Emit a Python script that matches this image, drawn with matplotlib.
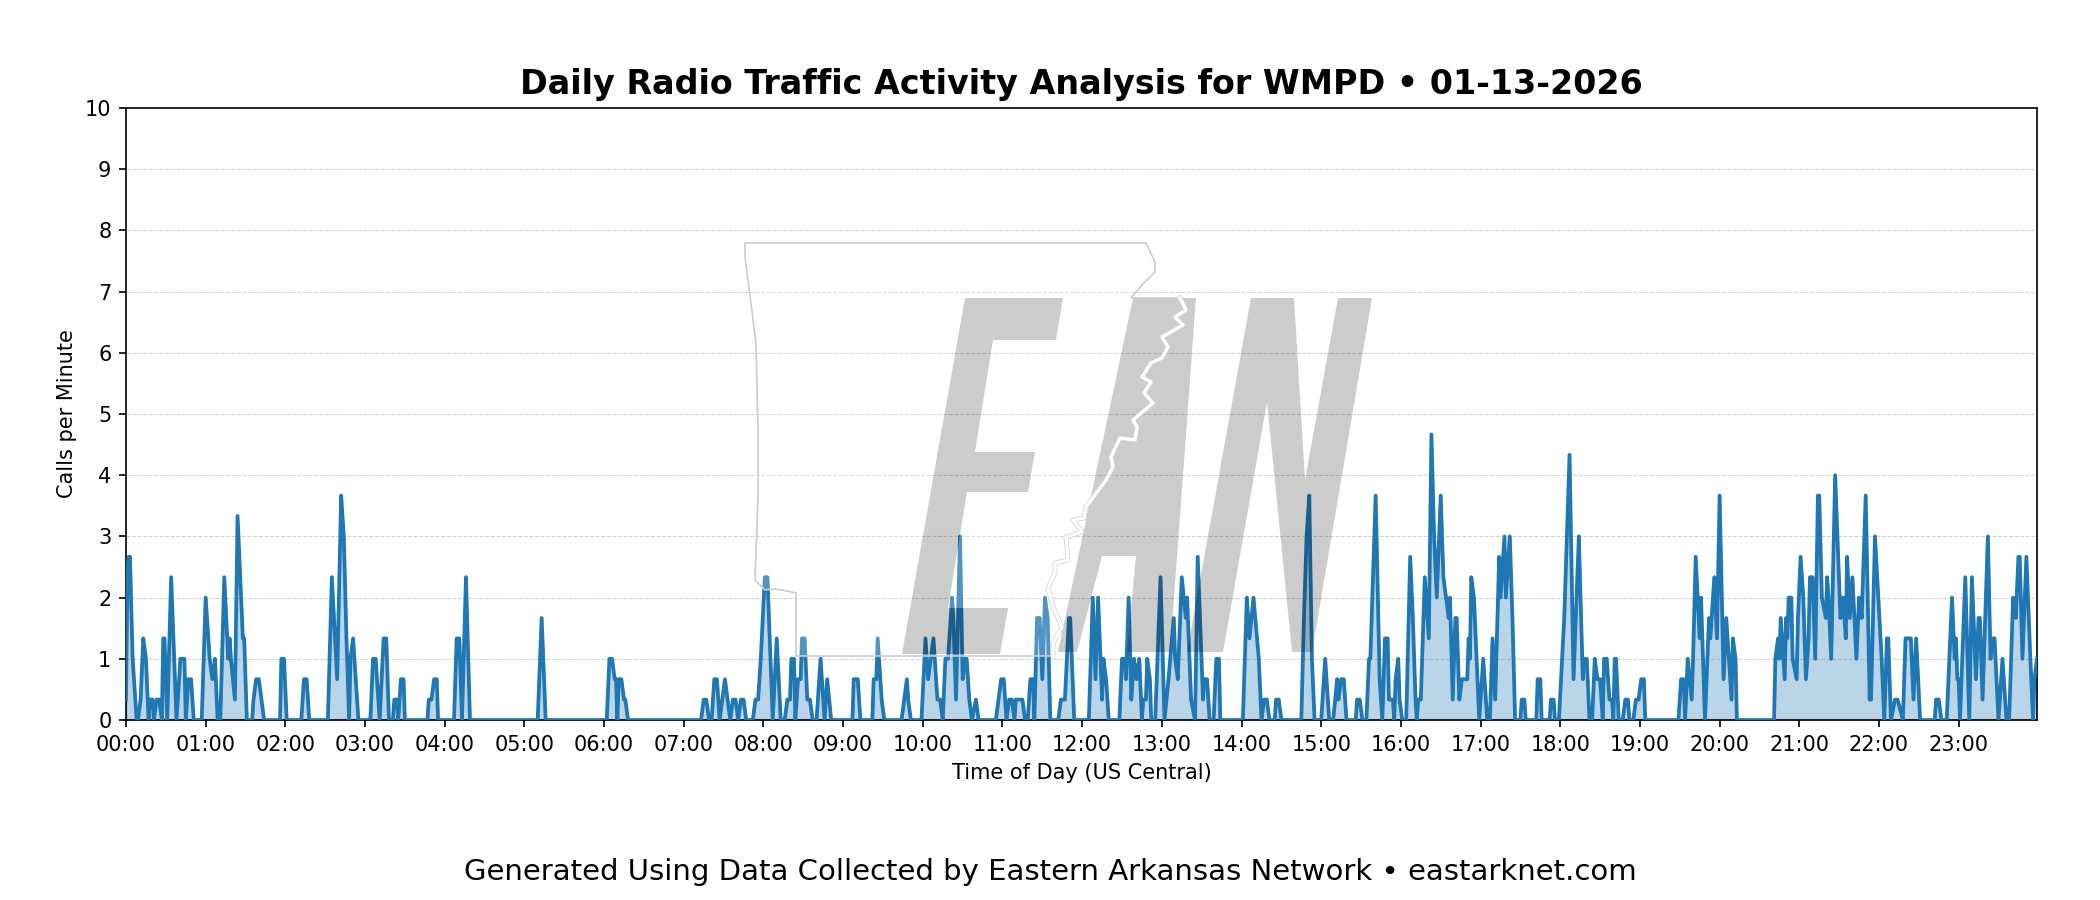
import matplotlib
matplotlib.use("Agg")
import numpy as np
import matplotlib.pyplot as plt
from matplotlib.patches import Polygon, PathPatch
from matplotlib.path import Path
from matplotlib.transforms import Affine2D

# (minute of day, calls per minute in thirds), zero runs only keep their ends
overnight = [(0,1),(1,7),(2,8),(3,8),(5,3),(8,0),(9,0),(11,1),(13,4),(15,3),(17,0),(18,1),(20,1),(21,0),
    (23,1),(25,1),(27,0),(28,4),(29,4),(31,0),(34,7),(38,0),(41,3),(44,3),(45,0),(47,2),(49,2),(51,0),
    (57,0),(60,6),(63,3),(65,2),(67,3),(69,0),(71,0),(74,7),(77,3),(78,4),(79,3),(82,1),(84,10),(88,4),(89,4),(91,0),
    (95,0),(96,1),(98,2),(100,2),(102,1),(104,0),(116,0),(117,3),(119,3),(121,0),(132,0),(134,2),(136,2),(138,0),
    (152,0),(155,7),(159,2),(162,11),(164,9),(166,4),(168,0),(169,3),(171,4),(173,2),(175,0),(184,0),
    (186,3),(188,3),(191,0),(194,4),(196,4),(198,0),(201,0),(202,1),(204,1),(205,0),(207,2),(209,2),(210,0),
    (227,0),(228,1),(230,1),(232,2),(234,2),(235,0),(247,0),(249,4),(251,4),(253,0),(256,7),(259,0),
    (310,0),(313,5),(316,0),(362,0),(364,3),(366,3),(368,2),(369,2),(370,0),(371,2),(373,2),(375,1),(376,1),(378,0)]
morning = [(433,0),(435,1),(437,1),(439,0),(441,0),(443,2),(445,2),(447,0),(449,1),(451,2),(453,1),(455,0),
    (457,1),(459,1),(461,0),(463,1),(465,1),(467,0),(472,0),(474,1),(476,1),(478,3),(481,7),(483,7),(487,0),
    (490,4),(493,0),(496,0),(498,1),(500,1),(501,3),(503,3),(504,0),(506,2),(508,2),(509,4),(511,4),(513,1),(515,1),(517,0),
    (520,0),(523,3),(526,0),(528,2),(531,0),(547,0),(548,2),(551,2),(553,0),(562,0),(563,2),(565,2),(566,4),(567,3),(569,1),(571,0),
    (584,0),(586,1),(588,2),(589,1),(591,0),(599,0),(602,4),(604,2),(606,3),(608,4),(611,1),(613,1),(615,0),
    (617,3),(619,3),(622,6),(623,5),(625,1),(628,9),(630,2),(632,3),(633,3),(635,1),(637,0),(640,1),(642,0),
    (655,0),(657,1),(659,2),(661,2),(663,0),(665,1),(667,1),(669,0),(670,1),(675,1),(677,0),(679,0),(681,2),(683,2),(684,0),
    (686,5),(688,5),(690,2),(692,6),(694,5),(696,0),(702,0),(704,1),(707,1),(710,5),(711,5),(714,0)]
midday = [(725,0),(728,6),(730,2),(732,6),(735,1),(736,3),(738,2),(740,0),(748,0),(750,3),(752,3),(753,2),(755,6),
    (757,1),(759,3),(761,2),(763,3),(765,0),(766,1),(768,1),(769,3),(771,2),(772,0),(775,0),(779,7),(782,0),(785,2),
    (789,5),(790,3),(792,2),(795,7),(798,5),(799,6),(802,1),(805,0),(807,8),(811,1),(812,2),(814,2),(816,0),(819,0),
    (821,3),(823,3),(824,0),(841,0),(844,6),(846,4),(849,6),(853,3),(855,0),(857,1),(859,1),(861,0),(865,0),(866,1),(868,1),(870,0),
    (885,0),(887,5),(889,9),(891,11),(893,3),(895,0),(900,0),(903,3),(906,0),(909,0),(912,2),(913,1),(915,2),(917,2),(919,0),
    (926,0),(927,1),(929,1),(931,0),(934,0),(936,3),(937,3),(941,11),(944,2),(946,0),(948,4),(950,4),(951,1),(954,1),(955,0),
    (956,2),(958,3),(959,1),(961,0)]
afternoon = [(964,0),(967,8),(969,5),(971,1),(972,0),(973,1),(975,1),(978,7),(981,4),(983,14),(985,9),(987,6),(990,11),
    (992,7),(994,6),(996,5),(997,6),(999,1),(1001,5),(1002,5),(1004,1),(1006,2),(1010,2),(1011,4),(1012,3),(1013,7),(1015,6),
    (1019,0),(1022,3),(1025,0),(1027,0),(1029,4),(1031,1),(1034,8),(1035,6),(1038,9),(1039,6),(1042,9),(1044,5),(1046,0),
    (1050,0),(1051,1),(1053,1),(1054,0),(1062,0),(1063,2),(1065,2),(1066,0),(1072,0),(1073,1),(1075,1),(1076,0),(1079,0),
    (1083,5),(1087,13),(1090,2),(1094,9),(1097,2),(1098,3),(1100,3),(1102,0),(1104,0),(1106,3),(1108,2),(1110,2),(1112,0),
    (1113,3),(1115,3),(1117,1),(1119,1),(1120,0),(1121,3),(1122,3),(1124,0),(1127,0),(1129,1),(1131,1),(1132,0),(1135,0),
    (1137,1),(1139,1),(1141,2),(1143,2),(1144,0)]
evening = [(1169,0),(1171,2),(1173,2),(1174,0),(1176,3),(1179,1),(1180,3),(1182,8),(1185,4),(1186,6),(1189,0),(1192,5),(1193,4),
    (1196,7),(1198,4),(1200,11),(1203,2),(1205,5),(1208,2),(1209,1),(1210,4),(1212,3),(1213,0),(1241,0),(1242,3),(1244,4),(1245,3),
    (1246,5),(1249,2),(1250,5),(1251,4),(1252,6),(1254,6),(1255,3),(1258,2),(1259,5),(1261,8),(1263,6),(1265,2),(1267,4),(1268,7),
    (1270,7),(1272,3),(1274,11),(1275,11),(1277,6),(1280,5),(1281,7),(1282,6),(1284,3),(1287,12),(1291,5),(1293,6),(1295,4),(1296,8),
    (1298,5),(1300,7),(1303,3),(1305,6),(1307,5),(1308,7),(1310,11),(1313,1),(1314,1),(1317,9),(1322,3),(1324,0),(1326,4),(1327,4),
    (1329,0),(1332,1),(1334,1),(1338,0),(1340,4),(1344,4),(1346,1),(1348,4),(1351,0),(1362,0),(1363,1),(1365,1),(1367,0),(1371,0),
    (1373,3),(1375,6),(1377,3),(1378,4),(1379,2),(1380,2),(1381,0),(1385,7),(1388,0),(1390,7),(1393,2),(1395,5),(1396,5),(1398,1),
    (1402,9),(1403,6),(1404,3),(1406,4),(1407,4),(1410,0),(1413,3),(1416,0),(1418,0),(1421,6),(1423,5),(1425,8),(1426,8),(1428,3),
    (1431,8),(1434,3),(1436,0),(1437,2),(1439,3)]

hour_labels = ["%02d:00" % h for h in range(24)]
y_ticks = list(range(11))

# logo shapes, in figure pixels
letter_e = [(965,298),(1063,298),(1056,340),(993,340),(975,452),(1035,452),(1028,492),(967,492),(948,608),(1008,608),(1000,654),(902,654)]
letter_a = [(1133,298),(1196,298),(1170,652),(1127,652),(1136,556),(1102,556),(1077,652),(1058,652)]
letter_a_hole = [(1155,340),(1142,516),(1111,516)]
letter_n = [(1187,652),(1251,298),(1294,298),(1305,480),(1338,298),(1372,298),(1312,652),(1292,652),(1267,402),(1223,652)]
map_north = [(745,243),(1146,243),(1155,262),(1155,272),(1142,285),(1131,298)]
river = [(1180,298),(1186,310),(1175,317),(1183,325),(1162,337),(1168,347),(1162,358),(1151,363),(1142,377),(1151,382),(1144,393),
    (1153,403),(1133,420),(1137,427),(1135,440),(1120,438),(1111,457),(1113,467),(1106,480),(1086,507),(1084,518),(1073,520),
    (1082,532),(1066,537),(1068,560),(1055,563),(1055,573),(1048,588),(1053,607),(1062,627),(1053,643),(1053,656)]
map_south_west = [(796,656),(796,593),(782,590),(774,589),(765,590),(755,580),(758,497),(758,430),(756,343),(745,257)]

minutes, thirds = zip(*(overnight + morning + midday + afternoon + evening))
minutes = np.array(minutes)
calls = np.array(thirds) / 3.0

W, H = 2100, 900
fig = plt.figure(figsize=(14, 6), dpi=150)
ax = fig.add_axes([126/W, 1 - 720/H, (2037 - 126)/W, (720 - 108)/H])

ax.plot(minutes, calls, color="tab:blue", lw=1.8, zorder=3)
ax.fill_between(minutes, calls, 0, color="tab:blue", alpha=0.3, zorder=2)
ax.set_xlim(0, 1439)
ax.set_ylim(0, 10)
ax.set_xticks(np.arange(24) * 60)
ax.set_xticklabels(hour_labels)
ax.set_yticks(y_ticks)
ax.grid(axis="y", ls="--", lw=0.5, color="gray", alpha=0.35)
ax.set_axisbelow(True)
ax.set_xlabel("Time of Day (US Central)", fontsize=10)
ax.set_ylabel("Calls per Minute", fontsize=10)
ax.tick_params(labelsize=10)
ax.set_title("Daily Radio Traffic Activity Analysis for WMPD \u2022 01-13-2026", fontsize=16, fontweight="bold", pad=6.5)

fig.text(0.5, 1 - 872/H, "Generated Using Data Collected by Eastern Arkansas Network \u2022 eastarknet.com",
         ha="center", va="center", fontsize=14)

# watermark sits over the plot
px = Affine2D().scale(1, -1).translate(0, H)
map_outline = map_north + river + map_south_west
verts = map_outline + [map_outline[0]] + letter_e[::-1] + [letter_e[-1]]
codes = [Path.MOVETO] + [Path.LINETO] * (len(map_outline) - 1) + [Path.CLOSEPOLY] \
    + [Path.MOVETO] + [Path.LINETO] * (len(letter_e) - 1) + [Path.CLOSEPOLY]
fig.add_artist(PathPatch(Path(verts, codes), facecolor="white", alpha=0.22, edgecolor="none", transform=px, zorder=5))

a_verts = letter_a + [letter_a[0]] + letter_a_hole + [letter_a_hole[0]]
a_codes = [Path.MOVETO] + [Path.LINETO] * (len(letter_a) - 1) + [Path.CLOSEPOLY] \
    + [Path.MOVETO] + [Path.LINETO] * (len(letter_a_hole) - 1) + [Path.CLOSEPOLY]
fig.add_artist(PathPatch(Path(a_verts, a_codes), facecolor="black", alpha=0.2, edgecolor="none", transform=px, zorder=6))
for shape in (letter_e, letter_n):
    fig.add_artist(Polygon(shape, closed=True, facecolor="black", alpha=0.2, edgecolor="none", transform=px, zorder=6))

fig.add_artist(Polygon(map_outline, closed=True, fill=False, edgecolor="#cccccc", lw=0.8, transform=px, zorder=7))
rx, ry = zip(*river)
fig.add_artist(plt.Line2D(rx, ry, color="#d0d0d0", lw=2.3, transform=px, zorder=7))
fig.add_artist(plt.Line2D(rx, ry, color="white", lw=1.6, transform=px, zorder=8))

fig.savefig("out.png", dpi=150)
